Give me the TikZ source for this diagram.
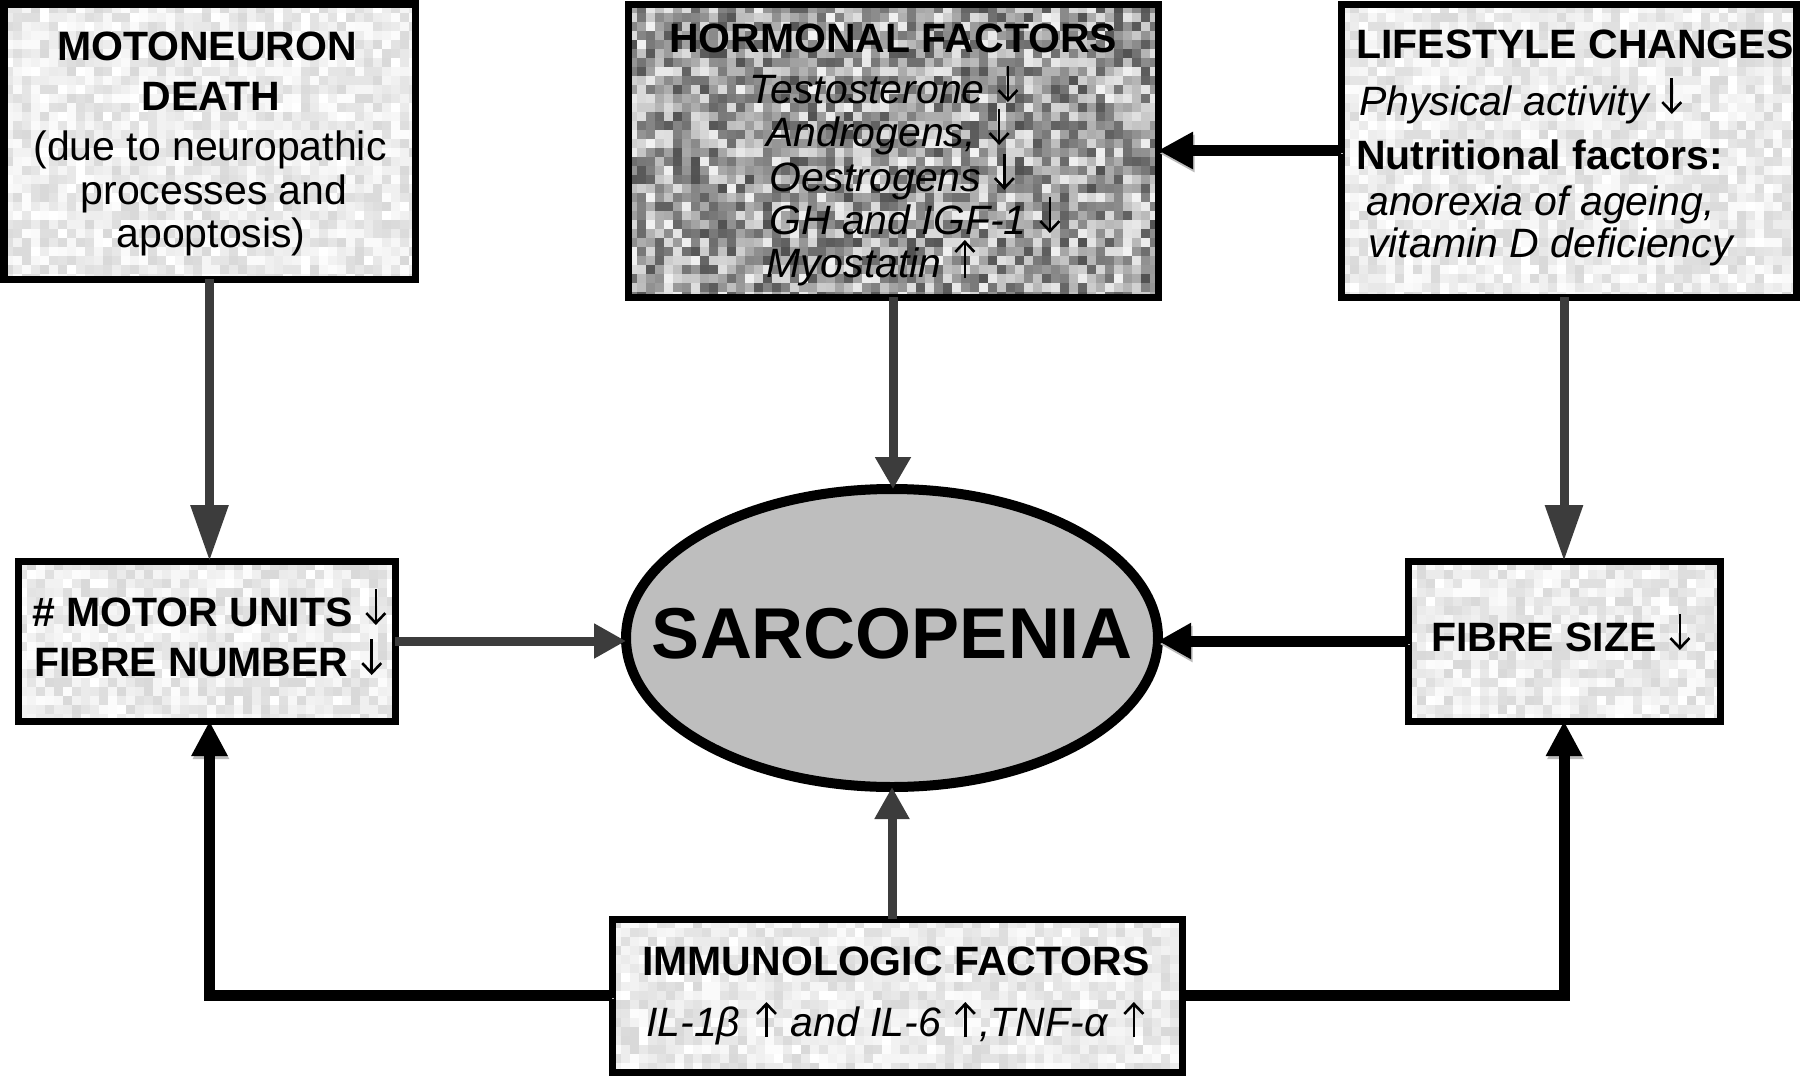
\documentclass[tikz,border=0pt]{standalone}
\usepackage{fontspec}
\setmainfont{Liberation Sans}
\usetikzlibrary{arrows.meta,shapes.geometric}
\definecolor{gline}{HTML}{3C3C3C}
\definecolor{sarcfill}{HTML}{BEBEBE}
\definecolor{shadowc}{HTML}{BBBBBB}
\newcommand\noisebox[6]{%
  \begin{scope}
    \clip (#1,#2) rectangle (#3,#4);
    \pgfmathtruncatemacro\nnx{(#3-#1)/9}%
    \pgfmathtruncatemacro\nny{(#4-#2)/9}%
    \foreach \ii in {0,...,\nnx}{%
      \foreach \jj in {0,...,\nny}{%
        \pgfmathrandominteger{\rr}{#5}{#6}%
        \fill[black!\rr] ({#1+9*\ii},{#2+9*\jj}) rectangle +(9.6,9.6);
      }%
    }%
  \end{scope}}
% small text arrows drawn after a text node: [x offset]{node}{height}
\newcommand\darr[3][23pt]{\draw[tarr] ([xshift=#1,yshift=#3]#2.base east) -- ([xshift=#1,yshift=1pt]#2.base east);}
\newcommand\uarr[3][23pt]{\draw[tarr] ([xshift=#1,yshift=-1pt]#2.base east) -- ([xshift=#1,yshift=#3]#2.base east);}
\begin{document}
\begin{tikzpicture}[x=1pt,y=-1pt,
  box/.style={draw=black, line width=7pt, inner sep=0pt, outer sep=0pt},
  txt/.style={inner sep=0pt, font=\fontsize{41}{46}\selectfont},
  ttl/.style={inner sep=0pt, font=\fontsize{41}{46}\selectfont\bfseries},
  itx/.style={inner sep=0pt, font=\fontsize{41}{46}\selectfont\itshape},
  garrow/.style={draw=gline, line width=9pt},
  barrow/.style={draw=black, line width=11pt,
    preaction={draw=shadowc, transform canvas={shift={(1.5pt,-3pt)}}}},
  tarr/.style={draw=black, line width=2.6pt, -{Straight Barb[length=10pt,width=19pt]}},
]
\useasboundingbox (0,0) rectangle (1800,1076);
\fill[white] (0,0) rectangle (1800,1076);
\pgfmathsetseed{4242}
% textures
\noisebox{4}{4}{415}{279}{0}{15}
\noisebox{628}{4}{1158}{297}{5}{68}
\noisebox{1341}{4}{1796}{297}{0}{15}
\noisebox{18}{561}{395}{721}{0}{15}
\noisebox{1408}{561}{1720}{721}{0}{15}
\noisebox{612}{919}{1182}{1072}{0}{15}
% boxes
\node[box, minimum width=411pt, minimum height=275pt] (moto) at (209.5,141.5) {};
\node[box, minimum width=530pt, minimum height=293pt] (horm) at (893,150.5) {};
\node[box, minimum width=455pt, minimum height=293pt] (life) at (1568.5,150.5) {};
\node[box, minimum width=377pt, minimum height=160pt] (motor) at (206.5,641) {};
\node[box, minimum width=312pt, minimum height=160pt] (fibre) at (1564,641) {};
\node[box, minimum width=570pt, minimum height=153pt] (immuno) at (897,995.5) {};
\node[ellipse, draw=black, line width=10pt, fill=sarcfill, inner sep=0pt, outer sep=0pt,
      minimum width=532pt, minimum height=298pt] (sarc) at (892,638) {};
% connectors
\draw[garrow, -{Triangle[length=56pt,width=36pt]}] (moto.south) -- (moto.south |- motor.north);
\draw[garrow, -{Triangle[length=32pt,width=34pt]}] (horm.south) -- (horm.south |- sarc.north);
\draw[barrow, -{Triangle[length=35pt,width=35pt]}] (life.west) -- (life.west -| horm.east);
\draw[garrow, -{Triangle[length=56pt,width=36pt]}] (fibre.north |- life.south) -- (fibre.north);
\draw[garrow, -{Triangle[length=32pt,width=33pt]}] (motor.east) -- (motor.east -| sarc.west);
\draw[barrow, -{Triangle[length=33pt,width=34pt]}] (fibre.west) -- (fibre.west -| sarc.east);
\draw[garrow, -{Triangle[length=32pt,width=33pt]}] (immuno.north -| sarc.south) -- (sarc.south);
\draw[barrow, -{Triangle[length=35pt,width=34pt]}] (immuno.west) -| (moto.south |- motor.south);
\draw[barrow, -{Triangle[length=35pt,width=34pt]}] (immuno.east) -| (fibre.south);
% texts
\node[ttl, anchor=base] (t1) at (207,60) {MOTONEURON};
\node[ttl, anchor=base] (t2) at (211,110) {DEATH};
\node[txt, anchor=base] (t3) at (210,160) {(due to neuropathic};
\node[txt, anchor=base] (t4) at (214,204) {processes and};
\node[txt, anchor=base] (t5) at (211,247) {apoptosis)};
\node[ttl, anchor=base west] (h0) at (669,52) {HORMONAL FACTORS};
\node[itx, anchor=base west] (h1) at (749,103) {Testosterone};
\node[itx, anchor=base west] (h2) at (766,146) {Androgens,};
\node[itx, anchor=base west] (h3) at (769,191) {Oestrogens};
\node[itx, anchor=base west] (h4) at (769,234) {GH and IGF-1};
\node[itx, anchor=base west] (h5) at (766,277) {Myostatin};
\darr{h1}{37pt}
\darr{h2}{37pt}
\darr{h3}{37pt}
\darr{h4}{37pt}
\uarr{h5}{37pt}
\node[ttl, anchor=base west] (l0) at (1356,58) {LIFESTYLE CHANGES};
\node[itx, anchor=base west] (l1) at (1359,115) {Physical activity};
\darr{l1}{37pt}
\node[ttl, anchor=base west] (l2) at (1356,169) {Nutritional factors:};
\node[itx, anchor=base west] (l3) at (1366,215) {anorexia of ageing,};
\node[itx, anchor=base west] (l4) at (1368,257) {vitamin D deficiency};
\node[ttl, anchor=base west] (m1) at (32,626) {\# MOTOR UNITS};
\node[ttl, anchor=base west] (m2) at (34,676) {FIBRE NUMBER};
\darr{m1}{37pt}
\darr{m2}{37pt}
\node[ttl, anchor=base west] (f1) at (1431,651) {FIBRE SIZE};
\darr{f1}{37pt}
\node[ttl, anchor=base west] (i0) at (642,975) {IMMUNOLOGIC FACTORS};
\node[itx, anchor=base west] (i1a) at (646,1036) {IL-1β};
\node[itx, anchor=base west] (i1b) at ([xshift=50pt]i1a.base east) {and IL-6};
\node[itx, anchor=base west] (i1c) at ([xshift=38pt]i1b.base east) {,TNF-α};
\uarr[26pt]{i1a}{34pt}
\uarr[24pt]{i1b}{34pt}
\uarr[26pt]{i1c}{34pt}
\node[inner sep=0pt, anchor=base, font=\fontsize{72}{80}\selectfont\bfseries] (st) at (892,658) {SARCOPENIA};
\end{tikzpicture}
\end{document}
